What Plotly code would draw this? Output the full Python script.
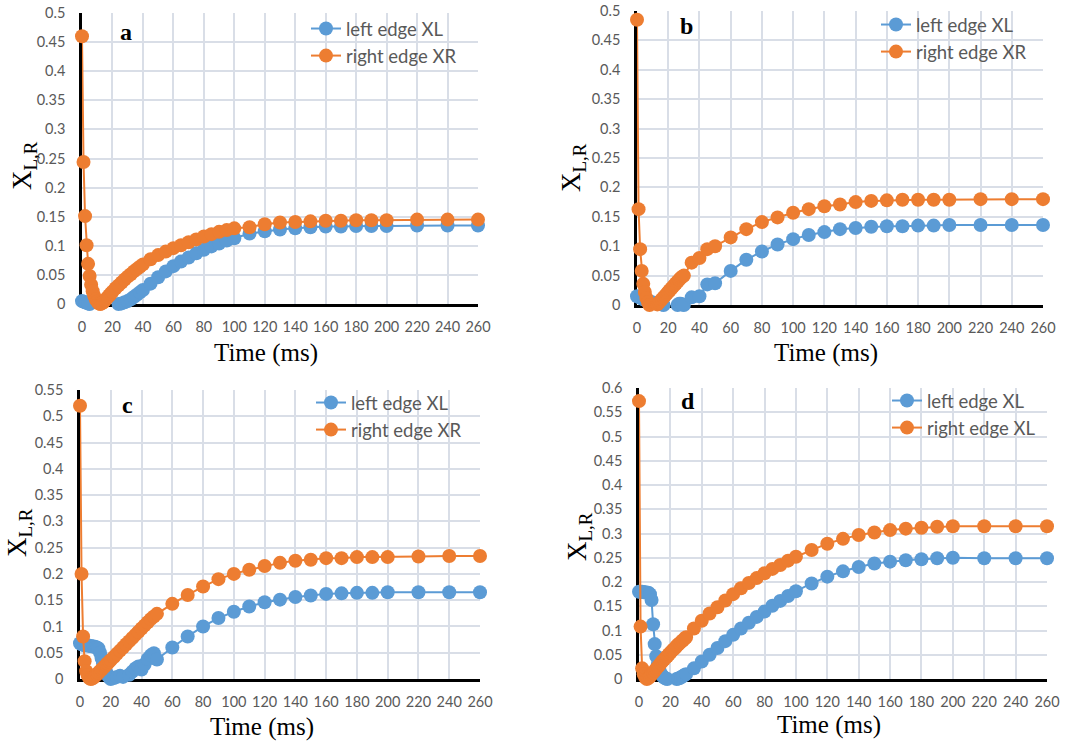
import plotly.graph_objects as go

# ---------------- data ----------------
t_a = [0, 1, 2, 3, 4, 5, 6, 7, 8, 9, 10, 11, 12, 13, 14, 15, 16, 17, 18, 19, 20,
       22, 24, 26, 28, 30, 32, 34, 36, 38, 40,
       45, 50, 55, 60, 65, 70, 75, 80, 85, 90, 95, 100,
       110, 120, 130, 140, 150, 160, 170, 180, 190, 200, 220, 240, 260]
a_left = [0.005, 0.004, 0.003, 0.002, 0.001, 0.0, -0.001, -0.002, -0.002, -0.003, -0.003,
          -0.003, -0.003, -0.003, -0.003, -0.003, -0.003, -0.002, -0.002, -0.002, -0.002,
          -0.001, 0.0, 0.001, 0.003, 0.005, 0.008, 0.012, 0.016, 0.020, 0.024,
          0.035, 0.046, 0.056, 0.065, 0.073, 0.080, 0.087, 0.093, 0.099, 0.104, 0.109, 0.113,
          0.121, 0.125, 0.128, 0.130, 0.132, 0.133, 0.133, 0.134, 0.134, 0.134, 0.135, 0.135, 0.135]
a_right = [0.46, 0.244, 0.151, 0.101, 0.069, 0.048, 0.033, 0.022, 0.014, 0.008, 0.004,
           0.001, 0.0, 0.001, 0.003, 0.006, 0.009, 0.012, 0.015, 0.018, 0.021,
           0.027, 0.032, 0.037, 0.042, 0.047, 0.051, 0.056, 0.060, 0.064, 0.068,
           0.077, 0.084, 0.090, 0.096, 0.101, 0.106, 0.111, 0.116, 0.120, 0.124, 0.127, 0.130,
           0.132, 0.137, 0.140, 0.141, 0.142, 0.143, 0.143, 0.144, 0.144, 0.144, 0.145, 0.145, 0.145]

t_b = [0, 1, 2, 3, 4, 5, 6, 7, 8, 9, 10, 11, 12, 13, 14, 15, 16, 17, 18, 19, 20,
       21, 22, 23, 24, 25, 26, 27, 28, 29, 30,
       35, 40, 45, 50,
       60, 70, 80, 90, 100, 110, 120, 130, 140, 150, 160, 170, 180, 190, 200, 220, 240, 260]
b_left = [0.015, 0.014, 0.013, 0.011, 0.010, 0.009, 0.008, 0.007, 0.006, 0.005, 0.004,
          0.004, 0.003, 0.003, 0.002, 0.002, 0.001, 0.0, -0.001, -0.002, -0.002,
          -0.003, -0.003, -0.003, -0.003, -0.002, 0.0, 0.002, 0.002, 0.001, 0.0,
          0.013, 0.015, 0.035, 0.037,
          0.058, 0.077, 0.091, 0.103, 0.112, 0.119, 0.124, 0.129, 0.131, 0.133, 0.134, 0.134,
          0.135, 0.135, 0.136, 0.136, 0.136, 0.136]
b_right = [0.485, 0.163, 0.095, 0.058, 0.036, 0.022, 0.012, 0.005, 0.0, -0.003, -0.005,
           -0.004, -0.002, 0.001, 0.004, 0.007, 0.010, 0.013, 0.016, 0.019, 0.022,
           0.025, 0.028, 0.031, 0.034, 0.037, 0.040, 0.043, 0.046, 0.048, 0.050,
           0.072, 0.080, 0.095, 0.100,
           0.115, 0.129, 0.141, 0.149, 0.157, 0.163, 0.168, 0.171, 0.175, 0.177, 0.178, 0.179,
           0.179, 0.179, 0.179, 0.180, 0.180, 0.180]

t_c = [0, 1, 2, 3, 4, 5, 6, 7, 8, 9, 10, 11, 12, 13, 14, 15, 16, 17, 18, 19, 20,
       22, 24, 26, 28, 30, 32, 34, 36, 38, 40, 42, 44, 46, 48, 50,
       60, 70, 80, 90, 100, 110, 120, 130, 140, 150, 160, 170, 180, 190, 200, 220, 240, 260]
c_left = [0.068, 0.066, 0.065, 0.064, 0.064, 0.064, 0.063, 0.063, 0.062, 0.062, 0.061,
          0.060, 0.058, 0.050, 0.040, 0.030, 0.021, 0.013, 0.007, 0.003, 0.0,
          0.002, 0.004, 0.006, 0.004, -0.001, 0.008, 0.014, 0.020, 0.024, 0.018,
          0.028, 0.038, 0.045, 0.049, 0.037,
          0.060, 0.081, 0.100, 0.116, 0.128, 0.138, 0.146, 0.151, 0.156, 0.159, 0.162, 0.163,
          0.164, 0.164, 0.165, 0.165, 0.165, 0.165]
c_right = [0.52, 0.200, 0.081, 0.034, 0.015, 0.007, 0.002, 0.0, 0.001, 0.003, 0.006,
           0.009, 0.012, 0.015, 0.018, 0.021, 0.024, 0.027, 0.030, 0.033, 0.036,
           0.042, 0.048, 0.054, 0.060, 0.066, 0.072, 0.078, 0.084, 0.090, 0.096,
           0.102, 0.108, 0.114, 0.119, 0.124,
           0.143, 0.160, 0.176, 0.190, 0.200, 0.208, 0.215, 0.221, 0.225, 0.227, 0.230, 0.230,
           0.232, 0.232, 0.232, 0.233, 0.234, 0.234]

t_d = [0, 1, 2, 3, 4, 5, 6, 7, 8, 9, 10, 11, 12, 13, 14, 15, 16, 17, 18, 19, 20,
       21, 22, 23, 24, 25, 26, 27, 28, 29, 30,
       35, 40, 45, 50, 55, 60, 65, 70, 75, 80, 85, 90, 95, 100,
       110, 120, 130, 140, 150, 160, 170, 180, 190, 200, 220, 240, 260]
d_left = [0.180, 0.180, 0.180, 0.179, 0.179, 0.178, 0.178, 0.175, 0.163, 0.113, 0.072,
          0.047, 0.030, 0.019, 0.011, 0.006, 0.003, 0.001, 0.0, -0.001, -0.002,
          -0.002, -0.002, -0.001, 0.0, 0.001, 0.002, 0.004, 0.006, 0.008, 0.010,
          0.022, 0.036, 0.050, 0.064, 0.078, 0.091, 0.104, 0.116, 0.128, 0.139, 0.151, 0.161,
          0.171, 0.181,
          0.197, 0.211, 0.222, 0.231, 0.238, 0.242, 0.245, 0.247, 0.249, 0.250, 0.249, 0.249, 0.249]
d_right = [0.573, 0.108, 0.022, 0.010, 0.003, 0.0, 0.002, 0.005, 0.009, 0.013, 0.017,
           0.021, 0.025, 0.029, 0.033, 0.037, 0.040, 0.044, 0.047, 0.051, 0.054,
           0.058, 0.061, 0.064, 0.068, 0.071, 0.074, 0.077, 0.080, 0.083, 0.086,
           0.104, 0.120, 0.135, 0.148, 0.162, 0.175, 0.187, 0.198, 0.208, 0.218, 0.227, 0.235,
           0.244, 0.252,
           0.266, 0.279, 0.289, 0.297, 0.302, 0.307, 0.310, 0.312, 0.314, 0.315, 0.315, 0.315, 0.315]

panel_labels = ["a", "b", "c", "d"]
left_names = ["left edge XL", "left edge XL", "left edge XL", "left edge XL"]
right_names = ["right edge XR", "right edge XR", "right edge XR", "right edge XL"]
y_max = [0.5, 0.5, 0.55, 0.6]
x_title = "Time (ms)"
y_title = "X<sub>L,R</sub>"

# ---------------- layout geometry (pixels) ----------------
W, H = 1084, 742
def fx(x):
    return x / W
def fy(y):
    return 1 - y / H

# plot boxes: (left, right, top, bottom) in px
boxes = [(82, 478, 13, 304), (637, 1043, 11, 305), (80, 480, 390, 679), (639, 1047, 388, 679)]
label_pos = [(126, 32), (686, 26), (127, 405), (688, 401)]
ytitle_pos = [(24, 166), (573, 168), (19, 533), (579, 537)]
xtitle_pos = [(266, 353), (826, 353), (262, 727), (829, 725)]
legend_pos = [(306, 10), (876, 6), (311, 384), (887, 382)]

BLUE = "#5B9BD5"
ORANGE = "#ED7D31"
GRID = "#D9DEE7"
SANS = "Lato, Carlito, Calibri, sans-serif"
TICK_FONT = dict(family=SANS, size=14.5, color="#595959")
SERIF = "Liberation Serif, Times New Roman, serif"

series = [(t_a, a_left, a_right), (t_b, b_left, b_right), (t_c, c_left, c_right), (t_d, d_left, d_right)]

fig = go.Figure()
layout = dict(
    width=W, height=H,
    margin=dict(l=0, r=0, t=0, b=0, autoexpand=False),
    paper_bgcolor="white", plot_bgcolor="white",
    showlegend=True,
    annotations=[],
)

for i, ((t, yl, yr), box) in enumerate(zip(series, boxes)):
    n = "" if i == 0 else str(i + 1)
    lg = "legend" + n
    xa, ya = "x" + n, "y" + n
    fig.add_trace(go.Scatter(x=t, y=yl, name=left_names[i], mode="lines+markers",
                             line=dict(color=BLUE, width=2), marker=dict(color=BLUE, size=14),
                             xaxis=xa, yaxis=ya, legend=lg, cliponaxis=False))
    fig.add_trace(go.Scatter(x=t, y=yr, name=right_names[i], mode="lines+markers",
                             line=dict(color=ORANGE, width=2), marker=dict(color=ORANGE, size=14),
                             xaxis=xa, yaxis=ya, legend=lg, cliponaxis=False))
    l, r, tp, bt = box
    layout["xaxis" + n] = dict(
        domain=[fx(l), fx(r)], anchor=ya, range=[0, 260], tick0=0, dtick=20,
        showgrid=True, gridcolor=GRID, gridwidth=1.5, zeroline=False, automargin=False,
        showline=True, linecolor="black", linewidth=2.5, layer="below traces",
        ticks="outside", ticklen=8, tickcolor="rgba(0,0,0,0)", tickfont=TICK_FONT,
    )
    layout["yaxis" + n] = dict(
        domain=[fy(bt), fy(tp)], anchor=xa, range=[0, y_max[i]], tick0=0, dtick=0.05,
        showgrid=True, gridcolor=GRID, gridwidth=1.5, zeroline=False, automargin=False,
        showline=True, linecolor="black", linewidth=2.5, layer="below traces",
        ticks="outside", ticklen=11, tickcolor="rgba(0,0,0,0)", tickfont=TICK_FONT,
    )
    lx, ly = legend_pos[i]
    layout[lg] = dict(x=fx(lx), y=fy(ly), xanchor="left", yanchor="top",
                      bgcolor="rgba(0,0,0,0)",
                      font=dict(family=SANS, size=18.5, color="#595959"),
                      tracegroupgap=0, itemsizing="trace")
    px_, py_ = label_pos[i]
    layout["annotations"].append(dict(text="<b>%s</b>" % panel_labels[i], x=fx(px_), y=fy(py_),
                                      xref="paper", yref="paper", showarrow=False,
                                      xanchor="center", yanchor="middle",
                                      font=dict(family=SERIF, size=24, color="black")))
    px_, py_ = ytitle_pos[i]
    layout["annotations"].append(dict(text=y_title, x=fx(px_), y=fy(py_), textangle=-90,
                                      xref="paper", yref="paper", showarrow=False,
                                      xanchor="center", yanchor="middle",
                                      font=dict(family=SERIF, size=27, color="black")))
    px_, py_ = xtitle_pos[i]
    layout["annotations"].append(dict(text=x_title, x=fx(px_), y=fy(py_),
                                      xref="paper", yref="paper", showarrow=False,
                                      xanchor="center", yanchor="middle",
                                      font=dict(family=SERIF, size=25, color="black")))

fig.update_layout(**layout)
fig.write_html("out.html", config={"displayModeBar": False},
               post_script="document.body.style.margin='0px';document.body.style.overflow='hidden';")
